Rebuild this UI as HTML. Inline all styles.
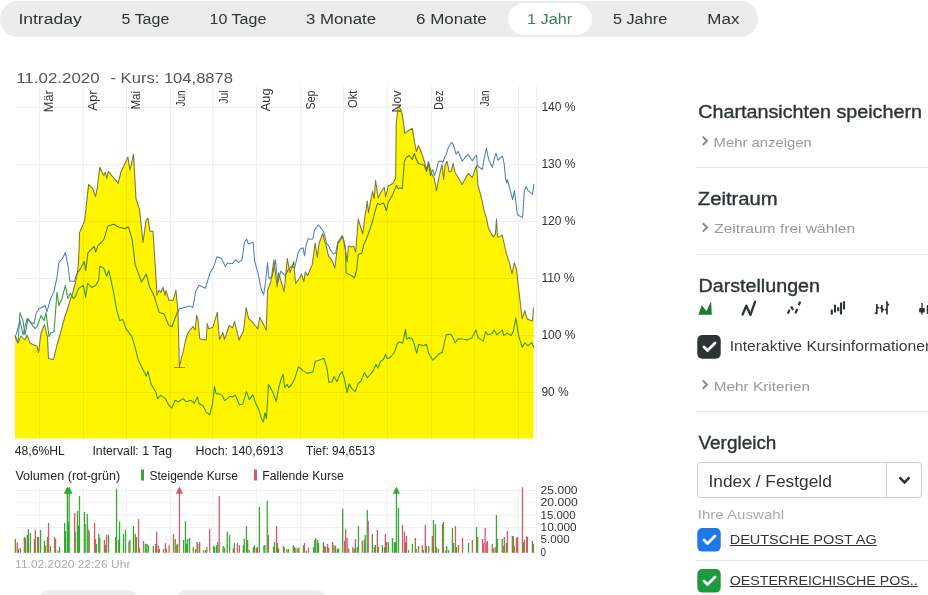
<!DOCTYPE html>
<html><head><meta charset="utf-8"><style>
*{margin:0;padding:0}
html,body{width:928px;height:595px;overflow:hidden;background:#fff}
svg{position:absolute;left:0;top:0;font-family:"Liberation Sans",sans-serif}
</style></head><body>
<svg class="ch" width="928" height="595" viewBox="0 0 928 595">
<rect x="0" y="1" width="758" height="36" rx="18" fill="#ececec"/>
<rect x="508" y="3" width="84" height="32" rx="16" fill="#fff"/>
<rect x="36" y="590" width="105" height="30" rx="15" fill="#ececec"/>
<rect x="173" y="590" width="157" height="30" rx="15" fill="#ececec"/>
<path d="M39.5,86.5V438.5 M83.5,86.5V438.5 M126.5,86.5V438.5 M170.5,86.5V438.5 M212.5,86.5V438.5 M256.5,86.5V438.5 M300.5,86.5V438.5 M343.5,86.5V438.5 M387.5,86.5V438.5 M431.5,86.5V438.5 M474.5,86.5V438.5 M518.5,86.5V438.5 M16,107.5H536 M16,164.5H536 M16,221.5H536 M16,278.5H536 M16,335.5H536 M16,392.5H536 M536.5,86.5V438.5" stroke="#efefef" stroke-width="1" fill="none"/>
<text transform="translate(52.5,112.2) rotate(-90)" textLength="21.9" lengthAdjust="spacingAndGlyphs" font-size="12" fill="#333">Mär</text>
<text transform="translate(96.5,110.7) rotate(-90)" textLength="20.4" lengthAdjust="spacingAndGlyphs" font-size="12" fill="#333">Apr</text>
<text transform="translate(139.5,109.6) rotate(-90)" textLength="18.8" lengthAdjust="spacingAndGlyphs" font-size="12" fill="#333">Mai</text>
<text transform="translate(185.2,106.6) rotate(-90)" textLength="16.1" lengthAdjust="spacingAndGlyphs" font-size="12" fill="#333">Jun</text>
<text transform="translate(227.5,103.7) rotate(-90)" textLength="13.2" lengthAdjust="spacingAndGlyphs" font-size="12" fill="#333">Jul</text>
<text transform="translate(269.5,111.2) rotate(-90)" textLength="22.7" lengthAdjust="spacingAndGlyphs" font-size="12" fill="#333">Aug</text>
<text transform="translate(315.0,109.4) rotate(-90)" textLength="18.9" lengthAdjust="spacingAndGlyphs" font-size="12" fill="#333">Sep</text>
<text transform="translate(357.3,108.0) rotate(-90)" textLength="17.5" lengthAdjust="spacingAndGlyphs" font-size="12" fill="#333">Okt</text>
<text transform="translate(400.5,112.5) rotate(-90)" textLength="22" lengthAdjust="spacingAndGlyphs" font-size="12" fill="#333">Nov</text>
<text transform="translate(443.3,109.9) rotate(-90)" textLength="19.4" lengthAdjust="spacingAndGlyphs" font-size="12" fill="#333">Dez</text>
<text transform="translate(488.5,106.6) rotate(-90)" textLength="16.1" lengthAdjust="spacingAndGlyphs" font-size="12" fill="#333">Jan</text>
<polyline points="15.0,336.8 18.0,342.8 20.0,312.6 23.0,320.6 25.0,334.8 28.0,318.6 32.0,324.7 35.0,328.7 37.0,326.7 41.0,315.6 44.0,320.6 46.0,312.6 49.0,336.8 51.0,332.7 54.0,331.7 57.0,292.4 59.0,305.5 62.0,298.5 65.4,285.4 67.8,298.5 70.4,293.4 73.5,298.5 75.5,296.5 78.5,288.4 83.5,285.4 85.6,297.5 87.6,283.3 91.6,287.4 95.6,285.4 98.7,280.3 99.7,266.2 103.7,268.2 106.7,276.3 108.8,270.2 113.8,293.4 116.8,310.6 119.8,320.6 122.9,319.6 125.9,328.7 128.9,332.7 132.0,336.8 135.0,346.9 138.3,360.2 143.1,369.8 146.3,376.2 147.9,371.4 151.1,384.2 155.9,392.2 157.5,398.6 160.7,395.4 165.5,398.6 168.7,405.0 171.9,408.1 175.1,400.2 178.3,401.8 183.1,398.6 186.3,401.8 191.0,400.2 194.2,403.4 197.4,397.0 199.0,403.4 203.0,405.7 206.0,411.7 209.7,414.8 212.5,403.7 214.5,386.5 216.1,393.6 220.2,394.2 222.2,395.6 224.6,400.6 227.2,398.6 230.2,396.2 232.3,397.0 235.3,395.0 239.3,404.7 242.7,404.3 246.4,391.6 249.4,399.6 252.8,394.6 255.4,402.7 258.5,408.7 261.5,418.8 263.5,421.8 264.9,412.7 266.5,418.8 268.5,384.5 271.6,389.6 274.2,395.6 276.2,401.7 278.6,388.5 280.6,380.5 283.1,374.0 284.7,387.5 287.1,384.5 288.7,387.5 291.7,384.5 294.8,378.5 298.4,366.8 302.8,370.4 306.9,373.4 312.9,372.0 315.3,361.3 319.0,360.3 324.0,358.3 327.0,368.4 329.0,382.5 332.0,381.7 334.0,376.6 337.1,381.7 339.7,374.6 342.1,371.6 344.1,377.6 347.1,392.7 349.2,383.7 351.8,388.7 355.2,391.7 358.2,383.7 361.3,380.6 364.3,372.6 367.3,377.6 370.3,374.6 373.3,370.6 376.0,364.5 378.0,368.1 380.4,361.5 383.4,359.5 385.4,354.4 387.5,358.5 390.5,357.5 394.5,352.0 397.5,343.3 399.6,341.9 402.6,343.3 405.6,329.2 406.6,339.3 408.6,337.9 411.7,338.3 413.7,342.3 416.7,353.4 418.7,344.4 423.8,345.8 426.4,344.2 428.9,353.8 432.8,360.2 436.0,357.0 439.2,353.8 442.4,352.2 446.2,334.7 451.0,334.3 455.4,342.7 458.0,338.7 463.1,339.3 467.1,339.9 471.8,337.9 475.9,329.9 478.1,337.9 483.3,341.1 485.5,331.5 487.7,334.7 491.9,333.7 494.1,329.9 496.7,334.7 499.9,332.4 502.4,329.9 503.7,335.6 506.9,333.1 511.1,335.6 513.3,331.5 515.8,317.7 518.4,334.7 522.2,347.4 524.8,342.7 528.0,345.8 531.8,342.7 533.7,347.4" fill="none" stroke="#3a9f3a" stroke-width="1.1" stroke-linejoin="round"/>
<polyline points="16.0,334.8 20.0,320.6 23.0,334.8 25.0,326.7 27.0,318.6 30.0,321.7 34.0,323.7 36.0,313.6 39.0,308.5 42.0,307.5 45.0,305.5 47.0,311.6 50.0,300.5 54.0,291.4 57.0,277.3 59.0,262.2 62.0,259.2 65.4,252.5 68.4,268.2 69.8,281.3 74.5,281.3 76.5,274.3 79.5,270.2 84.3,261.4 85.7,270.7 87.9,252.9 89.3,251.4 94.3,246.4 95.7,252.1 97.9,245.7 103.7,239.8 108.1,225.7 113.8,224.3 117.8,226.7 124.9,228.7 128.3,226.7 132.0,238.8 133.5,250.0 135.1,264.4 141.5,282.0 146.3,274.0 149.5,286.7 154.3,296.3 159.1,312.3 163.9,313.9 168.7,325.1 171.9,326.7 176.7,313.9 179.2,309.1 184.7,307.5 189.5,305.9 192.7,307.5 195.8,291.5 199.0,285.1 205.4,288.3 210.2,272.4 213.4,267.6 217.0,256.7 221.2,258.3 225.3,266.3 227.6,263.1 232.4,263.7 235.6,259.9 238.8,262.4 242.0,259.9 244.5,242.3 246.7,239.1 248.3,243.9 253.1,242.3 254.7,261.5 257.9,272.7 261.1,288.6 263.7,295.0 265.9,279.0 267.5,263.1 269.1,279.0 272.3,275.8 275.5,259.9 277.7,282.2 280.9,271.1 285.1,275.8 288.3,269.5 291.5,266.3 294.7,267.9 297.9,253.5 300.0,249.2 303.0,247.7 304.5,256.0 306.0,245.4 308.3,238.6 310.6,239.3 312.9,239.0 314.4,230.3 316.6,227.2 318.2,225.0 320.4,227.2 322.7,230.3 324.2,233.3 326.5,243.1 328.7,246.1 331.0,250.7 333.3,253.7 335.6,253.0 337.8,242.4 339.3,240.1 342.4,235.6 343.9,240.8 345.4,246.9 346.1,272.6 348.4,274.1 351.4,275.6 354.5,277.9 356.7,269.6 358.2,254.5 362.0,253.0 363.5,245.4 366.6,238.6 369.6,230.3 372.6,221.2 375.6,209.1 377.6,203.4 379.9,204.4 383.6,203.0 386.4,210.8 388.2,202.5 392.8,194.2 396.5,185.4 398.4,188.7 400.2,187.7 402.3,188.8 404.3,161.5 406.3,157.5 409.3,155.5 412.3,159.5 414.4,153.5 416.4,159.5 418.4,163.5 421.4,164.6 424.4,165.6 426.5,171.6 428.5,163.5 430.5,175.6 432.5,169.6 434.5,175.6 436.5,169.6 438.5,161.5 440.0,160.9 443.0,162.3 444.4,157.3 446.0,155.2 448.1,148.2 451.1,143.1 452.5,142.7 454.1,147.2 456.1,154.2 458.1,151.2 462.2,161.3 465.2,157.3 468.2,154.2 472.3,160.9 475.3,156.3 476.7,155.2 477.3,165.3 479.3,167.3 482.3,169.4 484.4,157.3 486.4,148.2 488.0,156.3 489.4,161.3 492.4,167.3 494.4,158.3 496.0,153.2 498.1,160.3 500.5,157.3 502.5,156.3 504.1,163.3 505.6,179.4 506.8,183.0 507.4,179.4 512.6,199.4 514.4,190.6 517.4,214.7 522.6,217.6 524.4,190.6 526.2,186.5 528.0,190.6 532.6,194.1 533.8,184.1" fill="none" stroke="#4a80b8" stroke-width="1.05" stroke-linejoin="round"/>
<polyline points="15.0,335.0 18.0,343.0 21.0,336.0 25.0,340.0 27.0,335.0 30.0,343.0 34.0,345.0 37.0,346.0 38.5,352.5 41.0,333.0 44.5,324.5 47.5,337.0 48.5,358.5 53.5,359.5 57.0,345.0 61.0,331.0 65.0,316.0 67.2,310.0 70.0,300.5 73.0,292.0 75.6,282.0 77.0,275.0 78.3,265.0 79.0,250.0 79.5,232.7 84.6,220.6 88.6,184.4 92.6,188.4 95.6,196.5 97.3,187.4 99.7,167.2 103.7,175.3 105.3,172.3 106.7,178.3 108.3,171.3 118.2,183.3 120.8,172.3 127.9,157.1 130.0,170.2 133.5,154.1 136.0,198.5 139.6,209.6 143.0,242.5 146.0,220.2 148.0,218.1 150.0,231.3 153.0,231.3 156.0,276.6 157.0,295.3 159.0,290.2 161.0,292.3 163.0,287.2 165.0,295.3 166.0,290.2 169.0,300.3 173.0,300.3 176.0,290.2 178.0,312.4 179.4,367.2 183.5,350.0 185.5,340.5 187.6,333.4 193.1,326.3 195.1,329.9 196.6,315.2 198.0,319.3 199.7,338.4 202.7,339.4 206.2,340.0 207.2,323.3 208.8,328.8 212.8,327.3 217.3,312.2 219.4,339.4 222.9,332.4 224.4,339.4 229.4,325.3 232.5,327.8 234.5,321.3 239.0,340.0 243.6,330.4 246.1,307.7 248.6,318.3 252.7,322.3 257.7,328.8 259.7,317.2 263.8,324.8 266.3,330.4 267.5,290.2 270.7,282.2 273.9,259.9 277.1,287.0 278.7,272.7 284.1,291.8 287.3,258.3 289.9,272.7 293.7,261.5 295.6,283.8 300.0,277.2 301.5,274.1 303.8,281.7 305.3,271.9 307.6,275.6 309.8,270.3 312.1,265.1 315.1,243.1 317.4,257.5 318.9,243.9 322.7,233.3 324.2,239.3 326.5,246.9 328.7,256.7 331.8,259.8 334.8,268.1 337.8,243.9 340.1,240.8 342.4,236.3 343.9,241.6 345.4,249.9 347.2,262.0 348.4,246.1 352.2,246.9 353.7,246.1 355.7,252.2 358.2,218.9 362.8,234.0 365.1,215.0 367.4,201.1 368.4,212.7 372.5,191.4 374.2,198.8 375.5,180.3 376.7,187.7 378.2,197.9 381.0,192.0 384.3,187.3 385.6,197.0 388.2,185.9 391.0,184.5 393.3,183.1 395.6,178.0 395.8,160.0 396.2,123.2 398.2,106.0 400.6,109.1 401.9,113.1 403.3,121.2 404.7,133.3 407.3,131.3 412.3,128.3 414.4,141.4 416.4,151.5 418.4,145.4 421.4,152.5 424.4,161.5 426.5,169.6 428.5,161.5 431.5,173.6 434.1,177.7 436.5,190.8 438.5,179.7 440.6,170.0 442.0,164.3 443.6,179.4 445.0,165.3 447.1,161.3 449.1,171.4 451.1,171.4 453.1,163.3 455.1,172.4 458.1,177.4 462.2,184.5 465.2,178.4 468.2,173.4 472.3,177.4 475.9,167.3 476.7,165.3 477.9,185.5 480.3,193.5 482.3,201.6 484.4,211.7 486.4,217.7 488.4,227.8 491.4,233.9 493.4,236.9 495.4,233.9 496.5,218.8 497.5,236.9 499.5,236.9 502.1,234.9 504.5,245.0 506.5,254.2 509.5,262.8 512.0,274.0 514.2,262.8 516.5,269.2 519.0,291.5 522.2,318.7 524.8,310.7 527.0,318.7 530.2,320.3 532.5,320.9 533.6,307.5" fill="none" stroke="#7a7a7a" stroke-width="1.05" stroke-linejoin="round"/>
<path d="M174,367.5H185" stroke="#888" stroke-width="0.9"/>
<polygon points="15.0,438.5 15.0,335.0 18.0,343.0 21.0,336.0 25.0,340.0 27.0,335.0 30.0,343.0 34.0,345.0 37.0,346.0 38.5,352.5 41.0,333.0 44.5,324.5 47.5,337.0 48.5,358.5 53.5,359.5 57.0,345.0 61.0,331.0 65.0,316.0 67.2,310.0 70.0,300.5 73.0,292.0 75.6,282.0 77.0,275.0 78.3,265.0 79.0,250.0 79.5,232.7 84.6,220.6 88.6,184.4 92.6,188.4 95.6,196.5 97.3,187.4 99.7,167.2 103.7,175.3 105.3,172.3 106.7,178.3 108.3,171.3 118.2,183.3 120.8,172.3 127.9,157.1 130.0,170.2 133.5,154.1 136.0,198.5 139.6,209.6 143.0,242.5 146.0,220.2 148.0,218.1 150.0,231.3 153.0,231.3 156.0,276.6 157.0,295.3 159.0,290.2 161.0,292.3 163.0,287.2 165.0,295.3 166.0,290.2 169.0,300.3 173.0,300.3 176.0,290.2 178.0,312.4 179.4,367.2 183.5,350.0 185.5,340.5 187.6,333.4 193.1,326.3 195.1,329.9 196.6,315.2 198.0,319.3 199.7,338.4 202.7,339.4 206.2,340.0 207.2,323.3 208.8,328.8 212.8,327.3 217.3,312.2 219.4,339.4 222.9,332.4 224.4,339.4 229.4,325.3 232.5,327.8 234.5,321.3 239.0,340.0 243.6,330.4 246.1,307.7 248.6,318.3 252.7,322.3 257.7,328.8 259.7,317.2 263.8,324.8 266.3,330.4 267.5,290.2 270.7,282.2 273.9,259.9 277.1,287.0 278.7,272.7 284.1,291.8 287.3,258.3 289.9,272.7 293.7,261.5 295.6,283.8 300.0,277.2 301.5,274.1 303.8,281.7 305.3,271.9 307.6,275.6 309.8,270.3 312.1,265.1 315.1,243.1 317.4,257.5 318.9,243.9 322.7,233.3 324.2,239.3 326.5,246.9 328.7,256.7 331.8,259.8 334.8,268.1 337.8,243.9 340.1,240.8 342.4,236.3 343.9,241.6 345.4,249.9 347.2,262.0 348.4,246.1 352.2,246.9 353.7,246.1 355.7,252.2 358.2,218.9 362.8,234.0 365.1,215.0 367.4,201.1 368.4,212.7 372.5,191.4 374.2,198.8 375.5,180.3 376.7,187.7 378.2,197.9 381.0,192.0 384.3,187.3 385.6,197.0 388.2,185.9 391.0,184.5 393.3,183.1 395.6,178.0 395.8,160.0 396.2,123.2 398.2,106.0 400.6,109.1 401.9,113.1 403.3,121.2 404.7,133.3 407.3,131.3 412.3,128.3 414.4,141.4 416.4,151.5 418.4,145.4 421.4,152.5 424.4,161.5 426.5,169.6 428.5,161.5 431.5,173.6 434.1,177.7 436.5,190.8 438.5,179.7 440.6,170.0 442.0,164.3 443.6,179.4 445.0,165.3 447.1,161.3 449.1,171.4 451.1,171.4 453.1,163.3 455.1,172.4 458.1,177.4 462.2,184.5 465.2,178.4 468.2,173.4 472.3,177.4 475.9,167.3 476.7,165.3 477.9,185.5 480.3,193.5 482.3,201.6 484.4,211.7 486.4,217.7 488.4,227.8 491.4,233.9 493.4,236.9 495.4,233.9 496.5,218.8 497.5,236.9 499.5,236.9 502.1,234.9 504.5,245.0 506.5,254.2 509.5,262.8 512.0,274.0 514.2,262.8 516.5,269.2 519.0,291.5 522.2,318.7 524.8,310.7 527.0,318.7 530.2,320.3 532.5,320.9 533.6,307.5 533.6,438.5" fill="#fff500" style="mix-blend-mode:multiply"/>
<path d="M16,490.5H536 M16,502.8H536 M16,515.1H536 M16,527.4H536 M16,539.8H536 M39.5,487V553 M83.5,487V553 M126.5,487V553 M170.5,487V553 M212.5,487V553 M256.5,487V553 M300.5,487V553 M343.5,487V553 M387.5,487V553 M431.5,487V553 M474.5,487V553 M518.5,487V553 M536.5,487V553" stroke="#f0f0f0" stroke-width="1" fill="none"/>
<rect x="14.7" y="539.0" width="1.3" height="13.8" fill="#7a8a3a"/><rect x="16.6" y="542.3" width="1.3" height="10.5" fill="#d9576a"/><rect x="17.7" y="549.0" width="1.3" height="3.8" fill="#7a8a3a"/><rect x="19.7" y="548.0" width="1.3" height="4.8" fill="#33aa33"/><rect x="23.7" y="537.0" width="1.3" height="15.8" fill="#d9576a"/><rect x="24.8" y="537.8" width="1.3" height="15.0" fill="#7a8a3a"/><rect x="26.7" y="534.8" width="1.3" height="18.0" fill="#33aa33"/><rect x="27.8" y="529.0" width="1.3" height="23.8" fill="#33aa33"/><rect x="29.8" y="533.0" width="1.3" height="19.8" fill="#7a8a3a"/><rect x="33.8" y="539.6" width="1.3" height="13.2" fill="#7a8a3a"/><rect x="34.7" y="530.0" width="1.3" height="22.8" fill="#d9576a"/><rect x="36.9" y="537.0" width="1.3" height="15.8" fill="#7a8a3a"/><rect x="37.8" y="537.0" width="1.3" height="15.8" fill="#7a8a3a"/><rect x="39.9" y="530.0" width="1.3" height="22.8" fill="#33aa33"/><rect x="43.8" y="540.8" width="1.3" height="12.0" fill="#33aa33"/><rect x="44.8" y="545.3" width="1.3" height="7.5" fill="#7a8a3a"/><rect x="46.8" y="537.0" width="1.3" height="15.8" fill="#7a8a3a"/><rect x="47.9" y="523.0" width="1.3" height="29.8" fill="#d9576a"/><rect x="49.8" y="546.0" width="1.3" height="6.8" fill="#33aa33"/><rect x="53.9" y="537.0" width="1.3" height="15.8" fill="#d9576a"/><rect x="54.9" y="539.0" width="1.3" height="13.8" fill="#7a8a3a"/><rect x="57.4" y="550.6" width="1.3" height="2.2" fill="#33aa33"/><rect x="58.9" y="547.0" width="1.3" height="5.8" fill="#33aa33"/><rect x="64.0" y="523.0" width="1.3" height="29.8" fill="#33aa33"/><rect x="64.9" y="531.0" width="1.3" height="21.8" fill="#33aa33"/><rect x="66.7" y="488.0" width="1.3" height="64.8" fill="#33aa33"/><path d="M63.7,493.8L67.3,486.5L70.9,493.8Z" fill="#33aa33"/><rect x="67.9" y="522.0" width="1.3" height="30.8" fill="#33aa33"/><rect x="68.5" y="488.0" width="1.3" height="64.8" fill="#33aa33"/><path d="M65.5,493.8L69.1,486.5L72.7,493.8Z" fill="#33aa33"/><rect x="74.0" y="513.0" width="1.3" height="39.8" fill="#d9576a"/><rect x="74.6" y="531.8" width="1.3" height="21.0" fill="#7a8a3a"/><rect x="76.8" y="511.0" width="1.3" height="41.8" fill="#33aa33"/><rect x="77.7" y="525.7" width="1.3" height="27.1" fill="#33aa33"/><rect x="78.8" y="495.9" width="1.3" height="56.9" fill="#33aa33"/><rect x="83.8" y="512.0" width="1.3" height="40.8" fill="#33aa33"/><rect x="84.5" y="524.0" width="1.3" height="28.8" fill="#33aa33"/><rect x="86.6" y="514.0" width="1.3" height="38.8" fill="#33aa33"/><rect x="87.5" y="528.8" width="1.3" height="24.0" fill="#7a8a3a"/><rect x="88.6" y="531.0" width="1.3" height="21.8" fill="#7a8a3a"/><rect x="93.9" y="522.7" width="1.3" height="30.1" fill="#d9576a"/><rect x="94.8" y="539.0" width="1.3" height="13.8" fill="#d9576a"/><rect x="95.8" y="543.8" width="1.3" height="9.0" fill="#33aa33"/><rect x="98.1" y="534.0" width="1.3" height="18.8" fill="#33aa33"/><rect x="99.1" y="537.8" width="1.3" height="15.0" fill="#33aa33"/><rect x="103.7" y="540.0" width="1.3" height="12.8" fill="#d9576a"/><rect x="104.7" y="544.6" width="1.3" height="8.2" fill="#7a8a3a"/><rect x="105.9" y="534.8" width="1.3" height="18.0" fill="#d9576a"/><rect x="107.9" y="534.8" width="1.3" height="18.0" fill="#33aa33"/><rect x="115.0" y="537.0" width="1.3" height="15.8" fill="#7a8a3a"/><rect x="115.9" y="488.8" width="1.3" height="64.0" fill="#33aa33"/><rect x="118.0" y="540.0" width="1.3" height="12.8" fill="#7a8a3a"/><rect x="118.9" y="521.5" width="1.3" height="31.3" fill="#33aa33"/><rect x="122.8" y="534.0" width="1.3" height="18.8" fill="#33aa33"/><rect x="124.8" y="530.0" width="1.3" height="22.8" fill="#33aa33"/><rect x="128.3" y="541.6" width="1.3" height="11.2" fill="#7a8a3a"/><rect x="129.3" y="540.0" width="1.3" height="12.8" fill="#7a8a3a"/><rect x="132.8" y="526.0" width="1.3" height="26.8" fill="#33aa33"/><rect x="134.6" y="534.0" width="1.3" height="18.8" fill="#7a8a3a"/><rect x="135.8" y="537.0" width="1.3" height="15.8" fill="#7a8a3a"/><rect x="137.9" y="519.0" width="1.3" height="33.8" fill="#d9576a"/><rect x="138.8" y="547.6" width="1.3" height="5.2" fill="#7a8a3a"/><rect x="142.9" y="540.8" width="1.3" height="12.0" fill="#d9576a"/><rect x="144.8" y="543.8" width="1.3" height="9.0" fill="#33aa33"/><rect x="146.2" y="543.8" width="1.3" height="9.0" fill="#33aa33"/><rect x="147.7" y="545.0" width="1.3" height="7.8" fill="#33aa33"/><rect x="152.7" y="546.0" width="1.3" height="6.8" fill="#7a8a3a"/><rect x="155.0" y="543.8" width="1.3" height="9.0" fill="#7a8a3a"/><rect x="156.0" y="531.8" width="1.3" height="21.0" fill="#d9576a"/><rect x="157.7" y="545.3" width="1.3" height="7.5" fill="#d9576a"/><rect x="158.7" y="549.0" width="1.3" height="3.8" fill="#7a8a3a"/><rect x="162.8" y="549.0" width="1.3" height="3.8" fill="#7a8a3a"/><rect x="164.8" y="543.0" width="1.3" height="9.8" fill="#d9576a"/><rect x="165.8" y="548.4" width="1.3" height="4.4" fill="#7a8a3a"/><rect x="168.5" y="545.3" width="1.3" height="7.5" fill="#d9576a"/><rect x="172.8" y="534.0" width="1.3" height="18.8" fill="#d9576a"/><rect x="174.6" y="539.0" width="1.3" height="13.8" fill="#33aa33"/><rect x="176.1" y="544.6" width="1.3" height="8.2" fill="#7a8a3a"/><rect x="176.8" y="543.8" width="1.3" height="9.0" fill="#7a8a3a"/><rect x="178.8" y="488.0" width="1.3" height="64.8" fill="#d9576a"/><path d="M175.8,493.8L179.4,486.5L183.0,493.8Z" fill="#d9576a"/><rect x="182.9" y="540.0" width="1.3" height="12.8" fill="#33aa33"/><rect x="184.8" y="521.2" width="1.3" height="31.6" fill="#33aa33"/><rect x="185.9" y="543.8" width="1.3" height="9.0" fill="#7a8a3a"/><rect x="186.9" y="539.0" width="1.3" height="13.8" fill="#33aa33"/><rect x="188.9" y="538.0" width="1.3" height="14.8" fill="#33aa33"/><rect x="192.7" y="547.0" width="1.3" height="5.8" fill="#33aa33"/><rect x="194.9" y="549.0" width="1.3" height="3.8" fill="#7a8a3a"/><rect x="196.4" y="542.0" width="1.3" height="10.8" fill="#7a8a3a"/><rect x="197.2" y="543.8" width="1.3" height="9.0" fill="#d9576a"/><rect x="199.0" y="542.0" width="1.3" height="10.8" fill="#7a8a3a"/><rect x="202.9" y="550.6" width="1.3" height="2.2" fill="#7a8a3a"/><rect x="204.7" y="549.9" width="1.3" height="2.9" fill="#7a8a3a"/><rect x="206.2" y="547.0" width="1.3" height="5.8" fill="#7a8a3a"/><rect x="209.0" y="529.0" width="1.3" height="23.8" fill="#d9576a"/><rect x="213.0" y="546.0" width="1.3" height="6.8" fill="#33aa33"/><rect x="214.1" y="547.0" width="1.3" height="5.8" fill="#33aa33"/><rect x="216.0" y="545.3" width="1.3" height="7.5" fill="#33aa33"/><rect x="217.1" y="542.0" width="1.3" height="10.8" fill="#33aa33"/><rect x="218.6" y="495.9" width="1.3" height="56.9" fill="#d9576a"/><rect x="222.5" y="546.0" width="1.3" height="6.8" fill="#33aa33"/><rect x="224.0" y="547.6" width="1.3" height="5.2" fill="#7a8a3a"/><rect x="226.6" y="531.8" width="1.3" height="21.0" fill="#33aa33"/><rect x="228.9" y="534.8" width="1.3" height="18.0" fill="#33aa33"/><rect x="232.6" y="548.4" width="1.3" height="4.4" fill="#d9576a"/><rect x="233.7" y="543.0" width="1.3" height="9.8" fill="#33aa33"/><rect x="236.7" y="543.0" width="1.3" height="9.8" fill="#d9576a"/><rect x="238.7" y="545.3" width="1.3" height="7.5" fill="#d9576a"/><rect x="242.7" y="545.3" width="1.3" height="7.5" fill="#33aa33"/><rect x="243.6" y="539.0" width="1.3" height="13.8" fill="#33aa33"/><rect x="245.8" y="526.0" width="1.3" height="26.8" fill="#33aa33"/><rect x="247.0" y="540.0" width="1.3" height="12.8" fill="#7a8a3a"/><rect x="248.5" y="549.9" width="1.3" height="2.9" fill="#33aa33"/><rect x="252.7" y="547.0" width="1.3" height="5.8" fill="#7a8a3a"/><rect x="253.8" y="545.3" width="1.3" height="7.5" fill="#33aa33"/><rect x="255.7" y="547.6" width="1.3" height="5.2" fill="#d9576a"/><rect x="256.8" y="547.0" width="1.3" height="5.8" fill="#d9576a"/><rect x="258.7" y="506.9" width="1.3" height="45.9" fill="#33aa33"/><rect x="263.3" y="545.3" width="1.3" height="7.5" fill="#33aa33"/><rect x="264.3" y="545.0" width="1.3" height="7.8" fill="#33aa33"/><rect x="266.6" y="500.9" width="1.3" height="51.9" fill="#33aa33"/><rect x="267.8" y="534.8" width="1.3" height="18.0" fill="#d9576a"/><rect x="272.9" y="547.0" width="1.3" height="5.8" fill="#33aa33"/><rect x="273.8" y="542.0" width="1.3" height="10.8" fill="#33aa33"/><rect x="275.9" y="526.0" width="1.3" height="26.8" fill="#d9576a"/><rect x="276.8" y="543.0" width="1.3" height="9.8" fill="#7a8a3a"/><rect x="277.9" y="548.4" width="1.3" height="4.4" fill="#33aa33"/><rect x="282.8" y="546.0" width="1.3" height="6.8" fill="#d9576a"/><rect x="283.6" y="547.0" width="1.3" height="5.8" fill="#7a8a3a"/><rect x="286.2" y="549.0" width="1.3" height="3.8" fill="#33aa33"/><rect x="287.7" y="549.0" width="1.3" height="3.8" fill="#33aa33"/><rect x="292.7" y="545.3" width="1.3" height="7.5" fill="#33aa33"/><rect x="293.7" y="547.0" width="1.3" height="5.8" fill="#7a8a3a"/><rect x="295.2" y="547.6" width="1.3" height="5.2" fill="#d9576a"/><rect x="297.2" y="548.4" width="1.3" height="4.4" fill="#33aa33"/><rect x="298.3" y="547.6" width="1.3" height="5.2" fill="#33aa33"/><rect x="302.8" y="545.3" width="1.3" height="7.5" fill="#7a8a3a"/><rect x="303.8" y="543.0" width="1.3" height="9.8" fill="#d9576a"/><rect x="305.8" y="550.6" width="1.3" height="2.2" fill="#7a8a3a"/><rect x="307.8" y="547.6" width="1.3" height="5.2" fill="#d9576a"/><rect x="312.9" y="547.0" width="1.3" height="5.8" fill="#33aa33"/><rect x="314.1" y="540.0" width="1.3" height="12.8" fill="#33aa33"/><rect x="315.1" y="538.0" width="1.3" height="14.8" fill="#33aa33"/><rect x="316.8" y="540.0" width="1.3" height="12.8" fill="#7a8a3a"/><rect x="317.9" y="543.0" width="1.3" height="9.8" fill="#33aa33"/><rect x="322.8" y="542.3" width="1.3" height="10.5" fill="#33aa33"/><rect x="323.9" y="546.0" width="1.3" height="6.8" fill="#d9576a"/><rect x="324.9" y="547.0" width="1.3" height="5.8" fill="#d9576a"/><rect x="326.9" y="543.8" width="1.3" height="9.0" fill="#d9576a"/><rect x="328.0" y="547.6" width="1.3" height="5.2" fill="#7a8a3a"/><rect x="331.9" y="542.0" width="1.3" height="10.8" fill="#d9576a"/><rect x="333.4" y="545.0" width="1.3" height="7.8" fill="#7a8a3a"/><rect x="334.9" y="546.0" width="1.3" height="6.8" fill="#7a8a3a"/><rect x="336.7" y="549.0" width="1.3" height="3.8" fill="#33aa33"/><rect x="337.9" y="548.4" width="1.3" height="4.4" fill="#33aa33"/><rect x="342.0" y="508.8" width="1.3" height="44.0" fill="#33aa33"/><rect x="344.0" y="540.8" width="1.3" height="12.0" fill="#d9576a"/><rect x="345.0" y="529.0" width="1.3" height="23.8" fill="#d9576a"/><rect x="346.5" y="537.8" width="1.3" height="15.0" fill="#d9576a"/><rect x="348.0" y="548.4" width="1.3" height="4.4" fill="#7a8a3a"/><rect x="352.1" y="547.2" width="1.3" height="5.6" fill="#d9576a"/><rect x="353.6" y="548.4" width="1.3" height="4.4" fill="#33aa33"/><rect x="354.8" y="539.0" width="1.3" height="13.8" fill="#d9576a"/><rect x="356.6" y="547.0" width="1.3" height="5.8" fill="#33aa33"/><rect x="357.8" y="526.0" width="1.3" height="26.8" fill="#33aa33"/><rect x="361.6" y="540.8" width="1.3" height="12.0" fill="#d9576a"/><rect x="363.6" y="540.0" width="1.3" height="12.8" fill="#33aa33"/><rect x="364.6" y="534.8" width="1.3" height="18.0" fill="#33aa33"/><rect x="366.6" y="509.9" width="1.3" height="42.9" fill="#33aa33"/><rect x="367.6" y="520.9" width="1.3" height="31.9" fill="#d9576a"/><rect x="371.7" y="534.0" width="1.3" height="18.8" fill="#33aa33"/><rect x="373.7" y="547.0" width="1.3" height="5.8" fill="#33aa33"/><rect x="374.7" y="545.0" width="1.3" height="7.8" fill="#7a8a3a"/><rect x="376.7" y="530.0" width="1.3" height="22.8" fill="#d9576a"/><rect x="377.7" y="547.0" width="1.3" height="5.8" fill="#d9576a"/><rect x="381.7" y="545.0" width="1.3" height="7.8" fill="#33aa33"/><rect x="383.8" y="547.2" width="1.3" height="5.6" fill="#7a8a3a"/><rect x="384.7" y="534.0" width="1.3" height="18.8" fill="#d9576a"/><rect x="385.7" y="542.0" width="1.3" height="10.8" fill="#7a8a3a"/><rect x="387.7" y="542.0" width="1.3" height="10.8" fill="#33aa33"/><rect x="391.8" y="538.0" width="1.3" height="14.8" fill="#33aa33"/><rect x="393.7" y="542.0" width="1.3" height="10.8" fill="#33aa33"/><rect x="394.8" y="542.3" width="1.3" height="10.5" fill="#33aa33"/><rect x="395.8" y="488.0" width="1.3" height="64.8" fill="#33aa33"/><path d="M392.8,493.8L396.4,486.5L400.0,493.8Z" fill="#33aa33"/><rect x="397.8" y="508.0" width="1.3" height="44.8" fill="#33aa33"/><rect x="401.9" y="525.0" width="1.3" height="27.8" fill="#d9576a"/><rect x="403.8" y="531.8" width="1.3" height="21.0" fill="#d9576a"/><rect x="404.9" y="542.3" width="1.3" height="10.5" fill="#7a8a3a"/><rect x="405.8" y="536.0" width="1.3" height="16.8" fill="#d9576a"/><rect x="407.9" y="549.9" width="1.3" height="2.9" fill="#33aa33"/><rect x="411.8" y="543.8" width="1.3" height="9.0" fill="#33aa33"/><rect x="414.7" y="538.0" width="1.3" height="14.8" fill="#7a8a3a"/><rect x="415.6" y="549.0" width="1.3" height="3.8" fill="#d9576a"/><rect x="417.9" y="546.0" width="1.3" height="6.8" fill="#33aa33"/><rect x="421.6" y="545.3" width="1.3" height="7.5" fill="#d9576a"/><rect x="422.7" y="549.9" width="1.3" height="2.9" fill="#7a8a3a"/><rect x="424.7" y="525.0" width="1.3" height="27.8" fill="#d9576a"/><rect x="425.7" y="546.0" width="1.3" height="6.8" fill="#7a8a3a"/><rect x="428.0" y="546.0" width="1.3" height="6.8" fill="#33aa33"/><rect x="431.7" y="536.0" width="1.3" height="16.8" fill="#d9576a"/><rect x="432.8" y="520.0" width="1.3" height="32.8" fill="#7a8a3a"/><rect x="434.8" y="524.2" width="1.3" height="28.6" fill="#33aa33"/><rect x="435.8" y="547.2" width="1.3" height="5.6" fill="#7a8a3a"/><rect x="437.8" y="548.7" width="1.3" height="4.1" fill="#7a8a3a"/><rect x="441.9" y="524.2" width="1.3" height="28.6" fill="#7a8a3a"/><rect x="442.8" y="522.0" width="1.3" height="30.8" fill="#7a8a3a"/><rect x="444.9" y="550.6" width="1.3" height="2.2" fill="#7a8a3a"/><rect x="446.1" y="546.0" width="1.3" height="6.8" fill="#33aa33"/><rect x="447.9" y="549.9" width="1.3" height="2.9" fill="#7a8a3a"/><rect x="451.8" y="528.0" width="1.3" height="24.8" fill="#33aa33"/><rect x="452.9" y="543.0" width="1.3" height="9.8" fill="#33aa33"/><rect x="454.8" y="526.0" width="1.3" height="26.8" fill="#d9576a"/><rect x="455.9" y="547.0" width="1.3" height="5.8" fill="#7a8a3a"/><rect x="457.8" y="545.0" width="1.3" height="7.8" fill="#7a8a3a"/><rect x="461.9" y="538.0" width="1.3" height="14.8" fill="#d9576a"/><rect x="467.9" y="543.0" width="1.3" height="9.8" fill="#33aa33"/><rect x="471.7" y="540.0" width="1.3" height="12.8" fill="#d9576a"/><rect x="475.9" y="527.0" width="1.3" height="25.8" fill="#33aa33"/><rect x="477.0" y="537.0" width="1.3" height="15.8" fill="#7a8a3a"/><rect x="482.0" y="539.0" width="1.3" height="13.8" fill="#d9576a"/><rect x="483.0" y="543.0" width="1.3" height="9.8" fill="#d9576a"/><rect x="484.5" y="528.0" width="1.3" height="24.8" fill="#d9576a"/><rect x="485.6" y="542.3" width="1.3" height="10.5" fill="#d9576a"/><rect x="486.8" y="541.0" width="1.3" height="11.8" fill="#d9576a"/><rect x="491.6" y="543.8" width="1.3" height="9.0" fill="#7a8a3a"/><rect x="492.8" y="548.4" width="1.3" height="4.4" fill="#d9576a"/><rect x="494.6" y="547.2" width="1.3" height="5.6" fill="#7a8a3a"/><rect x="495.8" y="514.9" width="1.3" height="37.9" fill="#33aa33"/><rect x="496.8" y="539.0" width="1.3" height="13.8" fill="#7a8a3a"/><rect x="501.6" y="539.0" width="1.3" height="13.8" fill="#33aa33"/><rect x="502.6" y="546.0" width="1.3" height="6.8" fill="#7a8a3a"/><rect x="503.7" y="537.0" width="1.3" height="15.8" fill="#7a8a3a"/><rect x="505.7" y="543.0" width="1.3" height="9.8" fill="#d9576a"/><rect x="506.7" y="531.0" width="1.3" height="21.8" fill="#d9576a"/><rect x="511.7" y="536.0" width="1.3" height="16.8" fill="#7a8a3a"/><rect x="512.7" y="536.0" width="1.3" height="16.8" fill="#7a8a3a"/><rect x="513.6" y="546.0" width="1.3" height="6.8" fill="#7a8a3a"/><rect x="515.8" y="537.8" width="1.3" height="15.0" fill="#d9576a"/><rect x="517.0" y="537.0" width="1.3" height="15.8" fill="#d9576a"/><rect x="521.8" y="487.3" width="1.3" height="65.5" fill="#d9576a"/><rect x="522.7" y="542.0" width="1.3" height="10.8" fill="#7a8a3a"/><rect x="523.8" y="540.0" width="1.3" height="12.8" fill="#7a8a3a"/><rect x="526.0" y="536.3" width="1.3" height="16.5" fill="#d9576a"/><rect x="526.8" y="537.0" width="1.3" height="15.8" fill="#d9576a"/><rect x="531.7" y="541.0" width="1.3" height="11.8" fill="#7a8a3a"/><rect x="532.8" y="543.8" width="1.3" height="9.0" fill="#7a8a3a"/>
<rect x="141" y="469.5" width="3" height="11" fill="#33aa33"/>
<rect x="254" y="469.5" width="3" height="11" fill="#d9576a"/>
<text x="18.4" y="24.1" font-size="15.5" fill="#2d3436" textLength="63.3" lengthAdjust="spacingAndGlyphs">Intraday</text>
<text x="121.6" y="24.1" font-size="15.5" fill="#2d3436" textLength="47.7" lengthAdjust="spacingAndGlyphs">5 Tage</text>
<text x="209.6" y="24.1" font-size="15.5" fill="#2d3436" textLength="56.7" lengthAdjust="spacingAndGlyphs">10 Tage</text>
<text x="305.9" y="24.1" font-size="15.5" fill="#2d3436" textLength="70.3" lengthAdjust="spacingAndGlyphs">3 Monate</text>
<text x="416" y="24.1" font-size="15.5" fill="#2d3436" textLength="70.8" lengthAdjust="spacingAndGlyphs">6 Monate</text>
<text x="527" y="24.1" font-size="15.5" fill="#3b7f5a" textLength="45.2" lengthAdjust="spacingAndGlyphs">1 Jahr</text>
<text x="612.9" y="24.1" font-size="15.5" fill="#2d3436" textLength="54.3" lengthAdjust="spacingAndGlyphs">5 Jahre</text>
<text x="707.3" y="24.1" font-size="15.5" fill="#2d3436" textLength="32.1" lengthAdjust="spacingAndGlyphs">Max</text>
<text x="16.2" y="82.9" font-size="15" fill="#555" textLength="83.5" lengthAdjust="spacingAndGlyphs">11.02.2020</text>
<text x="110.5" y="82.9" font-size="15" fill="#555" textLength="122.5" lengthAdjust="spacingAndGlyphs">- Kurs: 104,8878</text>
<text x="541.4" y="111.0" font-size="12" fill="#333">140 %</text>
<text x="541.4" y="168.0" font-size="12" fill="#333">130 %</text>
<text x="541.4" y="225.0" font-size="12" fill="#333">120 %</text>
<text x="541.4" y="282.0" font-size="12" fill="#333">110 %</text>
<text x="541.4" y="339.0" font-size="12" fill="#333">100 %</text>
<text x="541.4" y="396.0" font-size="12" fill="#333">90 %</text>
<text x="540.6" y="493.9" font-size="10" fill="#333" textLength="37.0" lengthAdjust="spacingAndGlyphs">25.000</text>
<text x="540.6" y="506.2" font-size="10" fill="#333" textLength="37.2" lengthAdjust="spacingAndGlyphs">20.000</text>
<text x="540.6" y="518.5" font-size="10" fill="#333" textLength="35.0" lengthAdjust="spacingAndGlyphs">15.000</text>
<text x="540.6" y="530.8" font-size="10" fill="#333" textLength="36.0" lengthAdjust="spacingAndGlyphs">10.000</text>
<text x="540.6" y="543.1999999999999" font-size="10" fill="#333" textLength="29.0" lengthAdjust="spacingAndGlyphs">5.000</text>
<text x="540.6" y="555.9" font-size="10" fill="#333" textLength="5.5" lengthAdjust="spacingAndGlyphs">0</text>
<text x="14.8" y="455.1" font-size="12" fill="#222" textLength="50.1" lengthAdjust="spacingAndGlyphs">48,6%HL</text>
<text x="92.4" y="455.1" font-size="12" fill="#222" textLength="79.6" lengthAdjust="spacingAndGlyphs">Intervall: 1 Tag</text>
<text x="195.5" y="455.1" font-size="12" fill="#222" textLength="87.9" lengthAdjust="spacingAndGlyphs">Hoch: 140,6913</text>
<text x="306.1" y="455.1" font-size="12" fill="#222" textLength="68.9" lengthAdjust="spacingAndGlyphs">Tief: 94,6513</text>
<text x="15.4" y="479.8" font-size="12" fill="#222" textLength="104.8" lengthAdjust="spacingAndGlyphs">Volumen (rot-grün)</text>
<text x="149.6" y="479.8" font-size="12" fill="#222" textLength="88.2" lengthAdjust="spacingAndGlyphs">Steigende Kurse</text>
<text x="262.3" y="479.8" font-size="12" fill="#222" textLength="81.5" lengthAdjust="spacingAndGlyphs">Fallende Kurse</text>
<text x="15.1" y="567.5" font-size="10.5" fill="#aaa" textLength="115.3" lengthAdjust="spacingAndGlyphs">11.02.2020 22:26 Uhr</text>
<text x="698.2" y="118.1" font-size="17.5" fill="#2d3436" stroke="#2d3436" stroke-width="0.35" textLength="223.8" lengthAdjust="spacingAndGlyphs">Chartansichten speichern</text>
<text x="697.8" y="204.8" font-size="17.5" fill="#2d3436" stroke="#2d3436" stroke-width="0.35" textLength="79.9" lengthAdjust="spacingAndGlyphs">Zeitraum</text>
<text x="698.5" y="291.8" font-size="17.5" fill="#2d3436" stroke="#2d3436" stroke-width="0.35" textLength="121.5" lengthAdjust="spacingAndGlyphs">Darstellungen</text>
<text x="698.5" y="448.6" font-size="17.5" fill="#2d3436" stroke="#2d3436" stroke-width="0.35" textLength="77.9" lengthAdjust="spacingAndGlyphs">Vergleich</text>
<text x="713.6" y="147" font-size="13.5" fill="#999" textLength="98.2" lengthAdjust="spacingAndGlyphs">Mehr anzeigen</text>
<text x="714.2" y="233.3" font-size="13.5" fill="#999" textLength="141.0" lengthAdjust="spacingAndGlyphs">Zeitraum frei wählen</text>
<text x="713.8" y="390.5" font-size="13.5" fill="#999" textLength="96.2" lengthAdjust="spacingAndGlyphs">Mehr Kriterien</text>
<text x="729.7" y="350.8" font-size="14" fill="#3a3a3a" textLength="204.0" lengthAdjust="spacingAndGlyphs">Interaktive Kursinformationen</text>
<text x="708.5" y="487" font-size="16.5" fill="#333" textLength="123.3" lengthAdjust="spacingAndGlyphs">Index / Festgeld</text>
<text x="697.7" y="518.6" font-size="12.5" fill="#aaa" textLength="86.4" lengthAdjust="spacingAndGlyphs">Ihre Auswahl</text>
<text x="729.7" y="543.6" font-size="13.5" fill="#333" textLength="147.0" lengthAdjust="spacingAndGlyphs">DEUTSCHE POST AG</text>
<text x="729.7" y="584.6" font-size="13.5" fill="#333" textLength="188.0" lengthAdjust="spacingAndGlyphs">OESTERREICHISCHE POS..</text>
<path d="M729.7,545.5H876.7M729.7,586.5H917.7" stroke="#333" stroke-width="1"/>
<path d="M696,167.5H928M696,254.5H928M696,411.5H928M696,560.5H928" stroke="#e6e6e6" stroke-width="1"/>
<path d="M702.8,136.60000000000002L707,140.8L702.8,145.0" stroke="#888" stroke-width="2" fill="none"/>
<path d="M702.8,223.20000000000002L707,227.4L702.8,231.6" stroke="#888" stroke-width="2" fill="none"/>
<path d="M702.8,380.40000000000003L707,384.6L702.8,388.8" stroke="#888" stroke-width="2" fill="none"/>
<path d="M698.3,314.7L701.8,305.1L706.4,311.2L711.1,301.2L711.8,314.7Z" fill="#1a7a30"/>
<path d="M742.6,314.5L746.3,305.7L750.5,314.9L755,301.8" stroke="#2d3436" stroke-width="2.3" stroke-linejoin="round" stroke-linecap="round" fill="none"/>
<path d="M787.8,313.6L789.6,309.6M791,306.6L793.2,309.8M795.4,313.4L797.3,309M798.6,305.2L800.3,301.6" stroke="#2d3436" stroke-width="2.2" fill="none"/>
<path d="M831.8,309.4V314.7M835,304.8V312.6M838.2,307.2V311.2M841,302.6V314.4M844,301.2V309.4" stroke="#2d3436" stroke-width="2.1" fill="none"/>
<path d="M876.8,304V314.2M881.9,305V312.6M887,301.2V314.6" stroke="#2d3436" stroke-width="1.7" fill="none"/><path d="M874.6,313H876.8M876.8,307.7H879M879.7,308H881.9M881.9,309.7H884.1M884.8,309.7H887M887,304.7H889.2" stroke="#2d3436" stroke-width="1.7" fill="none"/>
<path d="M922,303V314.4" stroke="#2d3436" stroke-width="1.4"/><rect x="919.1" y="308" width="5.7" height="4.4" rx="1" fill="#2d3436"/><rect x="926.8" y="305" width="2" height="9" fill="#2d3436"/>
<rect x="697.3" y="335.1" width="23.4" height="23.6" rx="5" fill="#2d3436"/><path d="M704,347.1L707.5,350.5L715,343.1" stroke="#fff" stroke-width="2.8" fill="none" stroke-linecap="round" stroke-linejoin="round"/>
<rect x="697.3" y="528.0" width="23.4" height="23.6" rx="5" fill="#1f78ea"/><path d="M704,540.0L707.5,543.4000000000001L715,536.0" stroke="#fff" stroke-width="2.8" fill="none" stroke-linecap="round" stroke-linejoin="round"/>
<rect x="697.3" y="569.0" width="23.4" height="23.6" rx="5" fill="#1e9a3e"/><path d="M704,581.0L707.5,584.4000000000001L715,577.0" stroke="#fff" stroke-width="2.8" fill="none" stroke-linecap="round" stroke-linejoin="round"/>
<rect x="697.5" y="462.5" width="224" height="35" rx="4" fill="none" stroke="#cfcfcf"/>
<path d="M886.5,462.5V497.5" stroke="#cfcfcf"/>
<path d="M899.5,477.3L904.5,482.3L909.5,477.3" stroke="#2d3436" stroke-width="2.6" fill="none"/>
</svg>
</body></html>
